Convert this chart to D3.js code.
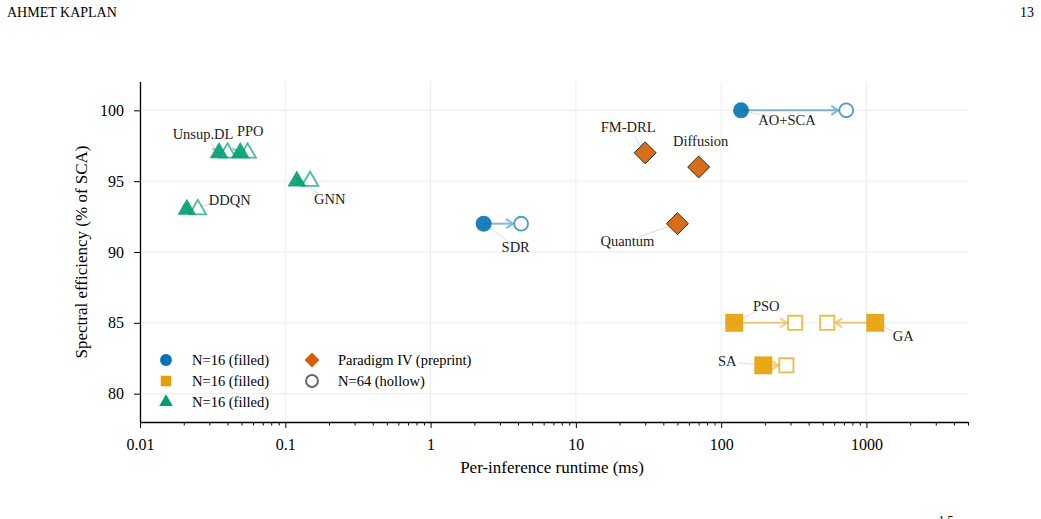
<!DOCTYPE html>
<html>
<head>
<meta charset="utf-8">
<script src="https://cdn.jsdelivr.net/npm/d3@7"></script>
<style>
  body { margin: 0; background: #fff; }
  svg text { font-family: "Times New Roman", "Liberation Serif", Times, serif !important; }
</style>
</head>
<body>
<svg id="chart" width="1041" height="519" font-family="Liberation Serif"></svg>
<script>
// data
var methods   = ["AO+SCA", "SDR", "PSO", "GA", "SA", "Unsup.DL", "PPO", "DDQN", "GNN", "FM-DRL", "Diffusion", "Quantum"];
var family    = ["opt", "opt", "meta", "meta", "meta", "dl", "dl", "dl", "dl", "p4", "p4", "p4"];
var runtime16 = [137, 2.32, 123, 1150, 195, 0.035, 0.049, 0.021, 0.12, 30, 70, 50];
var runtime64 = [726, 4.2, 323, 537, 281, 0.04, 0.055, 0.025, 0.148, null, null, null];
var efficiency = [100, 92, 85, 85, 82, 97, 97, 93, 95, 97, 96, 92];

var xTicks = [0.01, 0.1, 1, 10, 100, 1000];
var yTicks = [80, 85, 90, 95, 100];

var legendLabels = ["N=16 (filled)", "N=16 (filled)", "N=16 (filled)", "Paradigm IV (preprint)", "N=64 (hollow)"];

// label offsets (px) from the filled marker
var labelOffset = {
  "AO+SCA": [46, 10], "SDR": [32, 23], "PSO": [32, -17], "GA": [28, 13], "SA": [-36, -4],
  "Unsup.DL": [-16, -19], "PPO": [10, -22], "DDQN": [43, -10], "GNN": [33, 18],
  "FM-DRL": [-17, -26], "Diffusion": [2, -26], "Quantum": [-50, 17]
};

var colors = {opt: "#0173B2", meta: "#E69F00", dl: "#029E73", p4: "#D55E00"};
var shapes = {opt: d3.symbolCircle, meta: d3.symbolSquare, dl: d3.symbolTriangle, p4: d3.symbolSquare};
var size16 = {opt: 200, meta: 320, dl: 150, p4: 240};
var size64 = {opt: 150, meta: 200, dl: 120, p4: 200};
var FONT = "Times New Roman, Liberation Serif, serif";

var svg = d3.select("#chart");

// page header
svg.append("text").attr("x", 7).attr("y", 17).style("font-size", "14px").text("AHMET KAPLAN");
svg.append("text").attr("x", 1034).attr("y", 17).attr("text-anchor", "end").style("font-size", "14px").text("13");
svg.append("text").attr("x", 946).attr("y", 524).attr("text-anchor", "middle").style("font-size", "12px").text("1.5");

var x = d3.scaleLog().domain([0.01, 5000]).range([140, 968]);
var y = d3.scaleLinear().domain([78, 102]).range([422, 82]);

// grid
var grid = svg.append("g");
grid.selectAll(".gx").data(xTicks).enter().append("line")
    .attr("x1", function(d) { return x(d); }).attr("x2", function(d) { return x(d); })
    .attr("y1", 82).attr("y2", 422)
    .style("stroke", "#ececec").style("stroke-width", 1);
grid.selectAll(".gy").data(yTicks).enter().append("line")
    .attr("x1", 140).attr("x2", 968)
    .attr("y1", function(d) { return y(d); }).attr("y2", function(d) { return y(d); })
    .style("stroke", "#ececec").style("stroke-width", 1);

// axes
var minorTicks = [];
[0.01, 0.1, 1, 10, 100, 1000].forEach(function(dec) {
  for (var k = 2; k <= 9; k++) if (dec * k <= 5000) minorTicks.push(dec * k);
});

var xAxis = svg.append("g").attr("transform", "translate(0,422)")
    .call(d3.axisBottom(x).tickValues(xTicks).tickFormat(function(d) { return String(d); }).tickSize(6).tickPadding(11));
svg.append("g").attr("transform", "translate(0,422)")
    .call(d3.axisBottom(x).tickValues(minorTicks).tickFormat("").tickSize(3.5))
    .select(".domain").remove();
var yAxis = svg.append("g").attr("transform", "translate(140,0)")
    .call(d3.axisLeft(y).tickValues(yTicks).tickSize(6).tickPadding(10));

svg.selectAll("g").attr("font-family", FONT);
svg.selectAll(".domain").style("stroke", "#000").style("stroke-width", 1.3);
svg.selectAll(".tick line").style("stroke", "#000").style("stroke-width", 1);
svg.selectAll(".tick text").style("font-size", "16px").style("fill", "#000");
// domain lines without end caps
xAxis.select(".domain").attr("d", "M140,0.5H968");
yAxis.select(".domain").attr("d", "M0.5,82V422");

svg.append("text").attr("x", 552).attr("y", 473).attr("text-anchor", "middle")
    .style("font-size", "17px").text("Per-inference runtime (ms)");
svg.append("text").attr("transform", "translate(87,252) rotate(-90)").attr("text-anchor", "middle")
    .style("font-size", "17px").text("Spectral efficiency (% of SCA)");

var rows = methods.map(function(m, i) {
  return {name: m, fam: family[i], r16: runtime16[i], r64: runtime64[i], eff: efficiency[i]};
});

function markerTransform(px, py, fam) {
  return "translate(" + px + "," + py + ")" + (fam == "p4" ? " rotate(45)" : "");
}

// leader lines from labels
var plot = svg.append("g");
rows.forEach(function(d) {
  var px = x(d.r16), py = y(d.eff), off = labelOffset[d.name];
  var len = Math.sqrt(off[0] * off[0] + off[1] * off[1]);
  var ux = off[0] / len, uy = off[1] / len;
  plot.append("line")
      .attr("x1", px + ux * 6).attr("y1", py + uy * 6)
      .attr("x2", px + ux * (len - 12)).attr("y2", py + uy * (len - 12))
      .style("stroke", "#999").style("stroke-width", 0.7).style("opacity", 0.5);
});

// arrows filled -> hollow
rows.filter(function(d) { return d.r64 != null; }).forEach(function(d) {
  var x0 = x(d.r16), x1 = x(d.r64), yy = y(d.eff);
  var dir = x1 > x0 ? 1 : -1;
  var xe = x1 - dir * 8;
  var g = plot.append("g").style("stroke", colors[d.fam]).style("fill", "none")
      .style("stroke-width", 2).style("opacity", 0.5);
  g.append("line").attr("x1", x0).attr("y1", yy).attr("x2", xe).attr("y2", yy);
  g.append("path").attr("d", "M" + (xe - dir * 7) + "," + (yy - 4.5) + "L" + xe + "," + yy + "L" + (xe - dir * 7) + "," + (yy + 4.5));
});

// hollow markers (N=64)
plot.selectAll(".hollow").data(rows.filter(function(d) { return d.r64 != null; })).enter().append("path")
    .attr("transform", function(d) { return markerTransform(x(d.r64), y(d.eff), d.fam); })
    .attr("d", function(d) { return d3.symbol().type(shapes[d.fam]).size(size64[d.fam])(); })
    .style("fill", "#fff").style("stroke", function(d) { return colors[d.fam]; })
    .style("stroke-width", 1.8).style("stroke-opacity", 0.7);

// filled markers (N=16)
plot.selectAll(".filled").data(rows).enter().append("path")
    .attr("transform", function(d) { return markerTransform(x(d.r16), y(d.eff), d.fam); })
    .attr("d", function(d) { return d3.symbol().type(shapes[d.fam]).size(size16[d.fam])(); })
    .style("fill", function(d) { return colors[d.fam]; })
    .style("fill-opacity", 0.9)
    .style("stroke", function(d) { return d.fam == "p4" ? "#222" : "none"; })
    .style("stroke-width", 0.9);

// labels
plot.selectAll(".lbl").data(rows).enter().append("text")
    .attr("x", function(d) { return x(d.r16) + labelOffset[d.name][0]; })
    .attr("y", function(d) { return y(d.eff) + labelOffset[d.name][1]; })
    .attr("text-anchor", "middle").attr("dominant-baseline", "central")
    .style("font-size", "14.5px").style("fill", "#222")
    .text(function(d) { return d.name; });

// legend
var legendItems = [
  {label: legendLabels[0], shape: d3.symbolCircle, color: colors.opt, filled: true, col: 0, row: 0, fam: "opt"},
  {label: legendLabels[1], shape: d3.symbolSquare, color: colors.meta, filled: true, col: 0, row: 1, fam: "meta"},
  {label: legendLabels[2], shape: d3.symbolTriangle, color: colors.dl, filled: true, col: 0, row: 2, fam: "dl"},
  {label: legendLabels[3], shape: d3.symbolSquare, color: colors.p4, filled: true, col: 1, row: 0, fam: "p4"},
  {label: legendLabels[4], shape: d3.symbolCircle, color: "#666", filled: false, col: 1, row: 1, fam: "opt"}
];
var legend = svg.append("g");
legendItems.forEach(function(it) {
  var lx = 166 + it.col * 146, ly = 360 + it.row * 21;
  legend.append("path").attr("transform", markerTransform(lx, ly, it.fam))
      .attr("d", d3.symbol().type(it.shape).size(it.shape == d3.symbolTriangle ? 80 : 110)())
      .style("fill", it.filled ? it.color : "#fff")
      .style("stroke", it.filled ? "none" : it.color).style("stroke-width", 2);
  legend.append("text").attr("x", lx + 26).attr("y", ly).attr("dominant-baseline", "central")
      .style("font-size", "14.5px").text(it.label);
});
</script>
</body>
</html>
